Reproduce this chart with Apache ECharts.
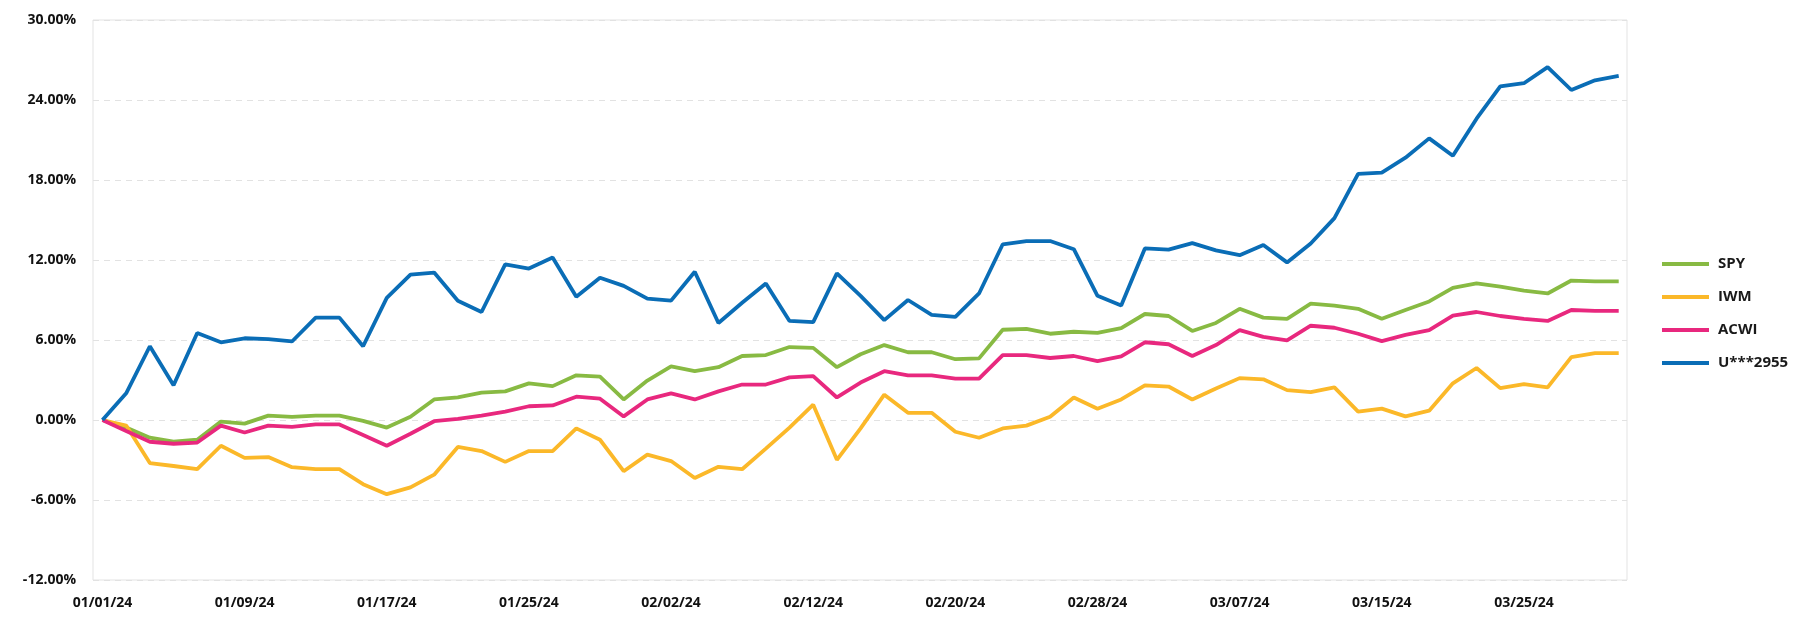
<!DOCTYPE html>
<html>
<head>
<meta charset="utf-8">
<script src="https://cdn.jsdelivr.net/npm/echarts@6/dist/echarts.min.js"></script>
<style>
html,body{margin:0;padding:0;background:#fff;}
#chart{width:1797px;height:634px;}
</style>
</head>
<body>
<div id="chart"></div>
<script>
const categories = [
 "01/01/24","01/02/24","01/03/24","01/04/24","01/05/24","01/08/24","01/09/24","01/10/24","01/11/24","01/12/24",
 "01/15/24","01/16/24","01/17/24","01/18/24","01/19/24","01/22/24","01/23/24","01/24/24","01/25/24","01/26/24",
 "01/29/24","01/30/24","01/31/24","02/01/24","02/02/24","02/05/24","02/06/24","02/07/24","02/08/24","02/09/24",
 "02/12/24","02/13/24","02/14/24","02/15/24","02/16/24","02/19/24","02/20/24","02/21/24","02/22/24","02/23/24",
 "02/26/24","02/27/24","02/28/24","02/29/24","03/01/24","03/04/24","03/05/24","03/06/24","03/07/24","03/08/24",
 "03/11/24","03/12/24","03/13/24","03/14/24","03/15/24","03/18/24","03/19/24","03/20/24","03/21/24","03/22/24",
 "03/25/24","03/26/24","03/27/24","03/28/24","03/29/24"
];

const spy = [
 0,-0.57,-1.33,-1.63,-1.48,-0.12,-0.27,0.33,0.24,0.33,
 0.33,-0.06,-0.57,0.24,1.54,1.69,2.05,2.15,2.75,2.54,
 3.35,3.26,1.54,2.96,4.02,3.66,3.96,4.80,4.87,5.47,
 5.41,3.96,4.93,5.62,5.08,5.08,4.56,4.62,6.77,6.83,
 6.47,6.62,6.53,6.89,7.95,7.80,6.68,7.28,8.34,7.68,
 7.59,8.73,8.58,8.34,7.59,8.25,8.89,9.91,10.24,10.00,
 9.70,9.49,10.46,10.40,10.40
];

const iwm = [
 0,-0.42,-3.23,-3.45,-3.69,-1.93,-2.84,-2.78,-3.54,-3.69,
 -3.69,-4.81,-5.56,-5.05,-4.10,-2.02,-2.33,-3.14,-2.33,-2.33,
 -0.63,-1.48,-3.84,-2.60,-3.08,-4.35,-3.51,-3.69,-2.15,-0.57,
 1.15,-2.99,-0.63,1.90,0.54,0.54,-0.88,-1.33,-0.63,-0.42,
 0.24,1.69,0.85,1.54,2.60,2.51,1.54,2.36,3.14,3.05,
 2.24,2.09,2.45,0.63,0.85,0.27,0.70,2.75,3.90,2.39,
 2.69,2.45,4.71,5.02,5.02
];

const acwi = [
 0,-0.82,-1.63,-1.78,-1.69,-0.42,-0.94,-0.42,-0.51,-0.33,
 -0.33,-1.12,-1.93,-1.03,-0.09,0.09,0.33,0.63,1.03,1.09,
 1.75,1.60,0.27,1.54,1.99,1.54,2.15,2.66,2.66,3.20,
 3.29,1.69,2.81,3.66,3.35,3.35,3.11,3.11,4.87,4.87,
 4.65,4.80,4.41,4.77,5.83,5.68,4.80,5.62,6.74,6.23,
 5.98,7.07,6.92,6.47,5.92,6.38,6.74,7.83,8.10,7.80,
 7.59,7.43,8.25,8.19,8.19
];

const acct = [
 0,2.00,5.53,2.60,6.53,5.83,6.13,6.07,5.89,7.68,
 7.68,5.53,9.16,10.91,11.06,8.95,8.10,11.67,11.36,12.18,
 9.25,10.67,10.06,9.10,8.95,11.12,7.28,8.79,10.24,7.43,
 7.34,11.00,9.31,7.49,9.00,7.89,7.74,9.49,13.18,13.42,
 13.42,12.81,9.31,8.58,12.87,12.78,13.27,12.72,12.36,13.12,
 11.82,13.24,15.14,18.46,18.56,19.67,21.12,19.82,22.60,25.02,
 25.26,26.47,24.75,25.48,25.81
];

const seriesNames = ["SPY","IWM","ACWI","U***2955"];
const colors = ["#88ba43","#fbb829","#e8287e","#0a6db6"];
const yTicks = {min:-12, max:30, step:6};
const labelEvery = 6;

const xLabelIdx = categories.map((c,i)=>i).filter(i=>i % labelEvery === 0);

const chart = echarts.init(document.getElementById('chart'), null, {renderer:'canvas'});
const font = "'Open Sans', 'DejaVu Sans', sans-serif";
const mk = (name, vals, i) => ({
  name, type:'line', data: vals.map((v,k)=>[k, v]), symbol:'none', smooth:false,
  lineStyle:{width:3.8, color:colors[i]}, itemStyle:{color:colors[i]},
  emphasis:{disabled:true}, z: 2
});
chart.setOption({
  animation:false,
  backgroundColor:'#ffffff',
  grid:{left:93, top:20, right:170, bottom:54, show:true, borderColor:'#e3e3e3', borderWidth:1, containLabel:false},
  legend:{
    orient:'vertical', left:1657, top:250, icon:'rect', itemWidth:47, itemHeight:4,
    itemGap:15, itemStyle:{borderWidth:0},
    textStyle:{fontFamily:font, fontSize:15, fontWeight:'bold', color:'#1a1a1a', lineHeight:18, padding:[0,0,0,4]},
    data:seriesNames
  },
  xAxis:{
    type:'value', min:-0.4, max:categories.length - 0.65,
    axisLine:{show:false}, axisTick:{show:false},
    axisLabel:{customValues:xLabelIdx, formatter:v=>categories[Math.round(v)] || '',
      fontFamily:font, fontSize:14, fontWeight:'bold', color:'#111', margin:16,
      showMinLabel:true, showMaxLabel:true},
    splitLine:{show:false}
  },
  yAxis:{
    type:'value', min:yTicks.min, max:yTicks.max, interval:yTicks.step,
    axisLine:{show:false}, axisTick:{show:false},
    axisLabel:{fontFamily:font, fontSize:14, fontWeight:'bold', color:'#111', margin:17,
      formatter:v=>v.toFixed(2)+'%'},
    splitLine:{show:true, lineStyle:{type:[6,5], color:'#e2e2e2', width:1}}
  },
  series:[mk("SPY",spy,0), mk("IWM",iwm,1), mk("ACWI",acwi,2), mk("U***2955",acct,3)]
});
</script>
</body>
</html>
